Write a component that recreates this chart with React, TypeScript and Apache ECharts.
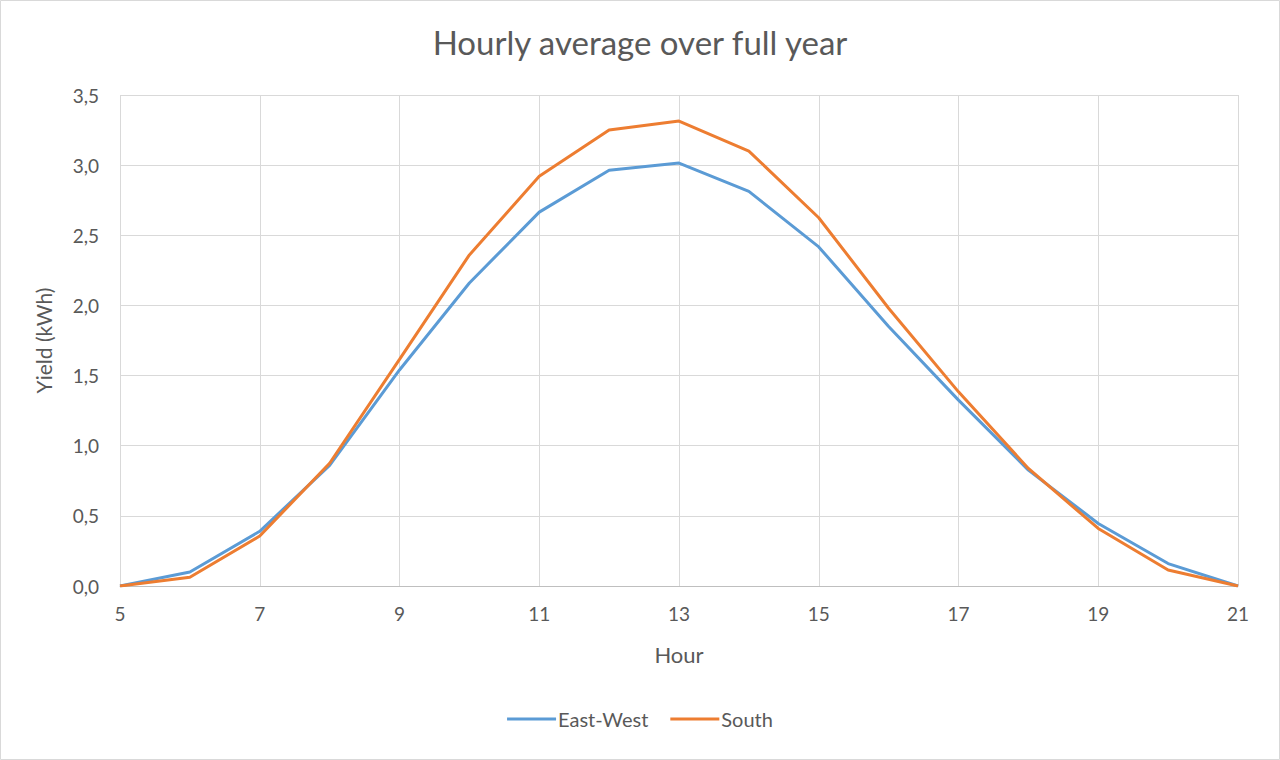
import React, { useEffect, useRef } from "react";
import * as echarts from "echarts";

const hours = ["5", "6", "7", "8", "9", "10", "11", "12", "13", "14", "15", "16", "17", "18", "19", "20", "21"];
const eastWest = [0, 0.1, 0.39, 0.86, 1.54, 2.16, 2.665, 2.963, 3.015, 2.813, 2.417, 1.85, 1.325, 0.826, 0.446, 0.16, 0];
const south = [0, 0.062, 0.356, 0.875, 1.615, 2.36, 2.92, 3.25, 3.314, 3.1, 2.625, 1.98, 1.384, 0.838, 0.41, 0.114, 0];
const seriesNames = ["East-West", "South"];
const seriesColors = ["#5B9BD5", "#ED7D31"];

const FONT = 'Lato, "Open Sans", "DejaVu Sans", sans-serif';
const TEXT = "#595959";

export default function App() {
  const ref = useRef<HTMLDivElement>(null);
  useEffect(() => {
    if (!ref.current) return;
    const chart = echarts.init(ref.current, undefined, { renderer: "svg" });
    chart.setOption({
      animation: false,
      backgroundColor: "#ffffff",
      textStyle: { fontFamily: FONT },
      title: {
        text: "Hourly average over full year",
        left: "center",
        top: 20,
        textStyle: { fontFamily: FONT, fontSize: 33, fontWeight: "normal", color: TEXT },
      },
      graphic: [
        {
          type: "rect",
          shape: { x: 0.5, y: 0.5, width: 1279, height: 759 },
          style: { fill: "none", stroke: "#d9d9d9", lineWidth: 1 },
          silent: true,
        },
      ],
      legend: {
        top: 704,
        left: "center",
        icon: "rect",
        itemWidth: 49,
        itemHeight: 3,
        itemGap: 22,
        textStyle: { fontFamily: FONT, fontSize: 20, color: TEXT, padding: [0, 0, 0, -3] },
        data: seriesNames,
      },
      grid: { left: 120, right: 42, top: 95, bottom: 174, containLabel: false },
      xAxis: {
        type: "category",
        data: hours,
        boundaryGap: false,
        name: "Hour",
        nameLocation: "middle",
        nameGap: 57,
        nameTextStyle: { fontFamily: FONT, fontSize: 22, color: TEXT },
        axisLine: { lineStyle: { color: "#bfbfbf", width: 1 } },
        axisTick: { show: false },
        axisLabel: { interval: 1, margin: 18, fontFamily: FONT, fontSize: 19, color: TEXT },
        splitLine: { show: true, interval: 1, lineStyle: { color: "#d9d9d9", width: 1 } },
      },
      yAxis: {
        type: "value",
        min: 0,
        max: 3.5,
        interval: 0.5,
        name: "Yield (kWh)",
        nameLocation: "middle",
        nameGap: 66,
        nameTextStyle: { fontFamily: FONT, fontSize: 21, color: TEXT },
        axisLine: { show: false },
        axisTick: { show: false },
        axisLabel: {
          margin: 21,
          fontFamily: FONT,
          fontSize: 19,
          color: TEXT,
          formatter: (v: number) => v.toFixed(1).replace(".", ","),
        },
        splitLine: { show: true, lineStyle: { color: "#d9d9d9", width: 1 } },
      },
      series: [
        {
          name: seriesNames[0],
          type: "line",
          data: eastWest,
          showSymbol: false,
          symbol: "none",
          lineStyle: { color: seriesColors[0], width: 3 },
          itemStyle: { color: seriesColors[0] },
        },
        {
          name: seriesNames[1],
          type: "line",
          data: south,
          showSymbol: false,
          symbol: "none",
          lineStyle: { color: seriesColors[1], width: 3 },
          itemStyle: { color: seriesColors[1] },
        },
      ],
    });
    return () => chart.dispose();
  }, []);
  return (
    <div
      ref={ref}
      style={{ position: "absolute", left: 0, top: 0, width: 1280, height: 760 }}
    />
  );
}
